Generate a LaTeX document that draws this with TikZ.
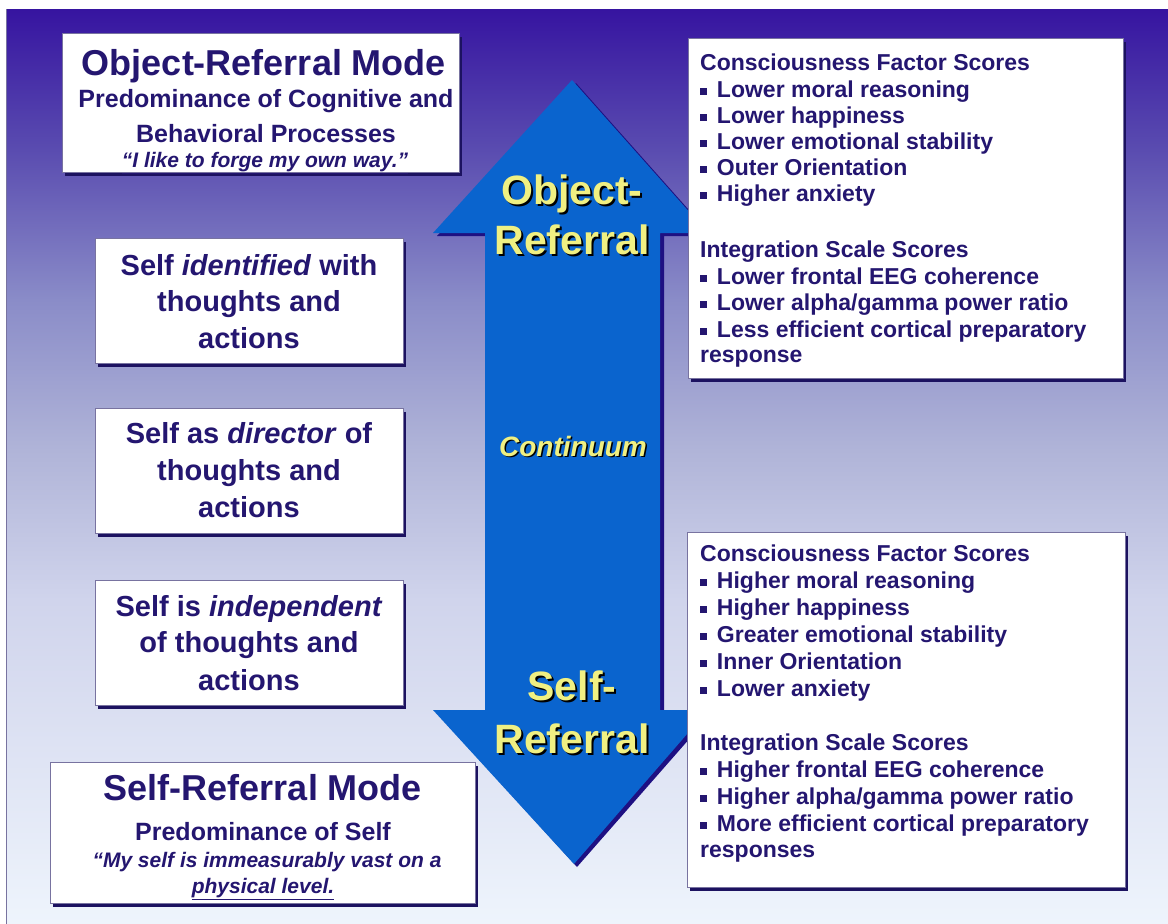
\documentclass[tikz,border=0pt]{standalone}
\usepackage{fontspec}
\setmainfont{Liberation Sans}
\usetikzlibrary{shadows}
\definecolor{bgA}{RGB}{54,20,160}
\definecolor{bgB}{RGB}{90,76,176}
\definecolor{bgC}{RGB}{138,140,200}
\definecolor{bgD}{RGB}{176,180,216}
\definecolor{bgE}{RGB}{208,212,236}
\definecolor{bgF}{RGB}{238,244,252}
\definecolor{ink}{RGB}{36,22,112}
\definecolor{edge}{RGB}{120,115,160}
\definecolor{deep}{RGB}{28,18,96}
\definecolor{arrowblue}{RGB}{10,100,206}
\definecolor{arrowdark}{RGB}{30,16,130}
\definecolor{lemon}{RGB}{240,240,130}
% background fade, dark indigo at the top to pale blue at the bottom
\pgfdeclareverticalshading{bgfade}{100bp}{color(0bp)=(bgF); color(25bp)=(bgF); color(42.7bp)=(bgE); color(50.9bp)=(bgD); color(59.1bp)=(bgC); color(67.3bp)=(bgB); color(75bp)=(bgA); color(100bp)=(bgA)}
% square bullet
\newcommand{\bul}{\raisebox{0.1em}{\rule{0.3em}{0.3em}}\hspace{0.43em}}
\begin{document}
\begin{tikzpicture}[x=1pt,y=-1pt,
  panel/.style={draw=edge, line width=1.2pt, fill=white, inner sep=0pt, anchor=north west,
    drop shadow={shadow xshift=2pt, shadow yshift=-3pt, fill=deep, opacity=1}},
  txt/.style={text=ink, inner sep=0pt, anchor=base},
  listline/.style={txt, anchor=base west, font=\bfseries\fontsize{23}{26}\selectfont},
  modetitle/.style={txt, font=\bfseries\fontsize{36}{40}\selectfont},
  modesub/.style={txt, font=\bfseries\fontsize{25}{28}\selectfont},
  modequote/.style={txt, font=\bfseries\itshape\fontsize{21}{24}\selectfont},
  stage/.style={txt, font=\bfseries\fontsize{29}{32}\selectfont},
  arrowtxt/.style={inner sep=0pt, anchor=base, text=lemon, font=\bfseries\fontsize{41}{44}\selectfont},
  arrowshadow/.style={arrowtxt, text=black},
]
\useasboundingbox (0,0) rectangle (1168,924);
\fill[white] (0,0) rectangle (1168,924);
\shade[shading=bgfade] (6,9) rectangle (1168,924);
\draw[edge, line width=1pt] (6.5,9) -- (6.5,924);

% double-headed continuum arrow
\fill[arrowdark] (576,83) -- (712,236) -- (664,236) -- (664,713) -- (712,713) -- (577,867)
  -- (437,713) -- (489,713) -- (489,236) -- (437,236) -- cycle;
\fill[arrowblue] (572,80) -- (708,233) -- (660,233) -- (660,710) -- (708,710) -- (574,864)
  -- (433,710) -- (485,710) -- (485,233) -- (433,233) -- cycle;

\node[arrowshadow] (or1s) at (574,206) {Object-};
\node[arrowtxt] (or1) at (572,204) {Object-};
\node[arrowshadow] (or2s) at (574,256) {Referral};
\node[arrowtxt] (or2) at (572,254) {Referral};
\node[arrowshadow] (sr1s) at (574,702) {Self-};
\node[arrowtxt] (sr1) at (572,700) {Self-};
\node[arrowshadow] (sr2s) at (574,755) {Referral};
\node[arrowtxt] (sr2) at (572,753) {Referral};
\node[arrowshadow, font=\bfseries\itshape\fontsize{28}{30}\selectfont] (conts) at (574.5,457.5) {Continuum};
\node[arrowtxt, font=\bfseries\itshape\fontsize{28}{30}\selectfont] (cont) at (573,456) {Continuum};

% object-referral mode
\node[panel, minimum width=397pt, minimum height=139pt] (om) at (62,33) {};
\node[modetitle] (om1) at (264,75) {Object-Referral Mode};
\node[modesub] (om2) at (266,107) {Predominance of Cognitive and};
\node[modesub] (om3) at (266,142) {Behavioral Processes};
\node[modequote] (om4) at (265,167) {\underline{“I like to forge my own way.”}};

% stages of the self
\node[panel, minimum width=308pt, minimum height=125pt] (st1) at (95,238) {};
\node[stage] (st1a) at (249,275) {Self \textit{identified} with};
\node[stage] (st1b) at (249,311) {thoughts and};
\node[stage] (st1c) at (249,348) {actions};

\node[panel, minimum width=308pt, minimum height=125pt] (st2) at (95,408) {};
\node[stage] (st2a) at (249,443) {Self as \textit{director} of};
\node[stage] (st2b) at (249,480) {thoughts and};
\node[stage] (st2c) at (249,517) {actions};

\node[panel, minimum width=308pt, minimum height=125pt] (st3) at (95,580) {};
\node[stage] (st3a) at (249,616) {Self is \textit{independent}};
\node[stage] (st3b) at (249,652) {of thoughts and};
\node[stage] (st3c) at (249,690) {actions};

% self-referral mode
\node[panel, minimum width=425pt, minimum height=141pt] (sm) at (50,762) {};
\node[modetitle] (sm1) at (263,800) {Self-Referral Mode};
\node[modesub] (sm2) at (263,840) {Predominance of Self};
\node[modequote] (sm3) at (267,867) {“My self is immeasurably vast on a};
\node[modequote] (sm4) at (263,893) {\underline{physical level.}};

% scores, object-referral end
\node[panel, minimum width=435pt, minimum height=340pt] (os) at (688,38) {};
\node[listline] (os1) at (700,70) {Consciousness Factor Scores};
\node[listline] (os2) at (700,97) {\bul Lower moral reasoning};
\node[listline] (os3) at (700,123) {\bul Lower happiness};
\node[listline] (os4) at (700,149) {\bul Lower emotional stability};
\node[listline] (os5) at (700,175) {\bul Outer Orientation};
\node[listline] (os6) at (700,201) {\bul Higher anxiety};
\node[listline] (os7) at (700,257) {Integration Scale Scores};
\node[listline] (os8) at (700,284) {\bul Lower frontal EEG coherence};
\node[listline] (os9) at (700,310) {\bul Lower alpha/gamma power ratio};
\node[listline] (os10) at (700,337) {\bul Less efficient cortical preparatory};
\node[listline] (os11) at (700,362) {response};

% scores, self-referral end
\node[panel, minimum width=438pt, minimum height=355pt] (ss) at (687,532) {};
\node[listline] (ss1) at (700,561) {Consciousness Factor Scores};
\node[listline] (ss2) at (700,588) {\bul Higher moral reasoning};
\node[listline] (ss3) at (700,615) {\bul Higher happiness};
\node[listline] (ss4) at (700,642) {\bul Greater emotional stability};
\node[listline] (ss5) at (700,669) {\bul Inner Orientation};
\node[listline] (ss6) at (700,696) {\bul Lower anxiety};
\node[listline] (ss7) at (700,750) {Integration Scale Scores};
\node[listline] (ss8) at (700,777) {\bul Higher frontal EEG coherence};
\node[listline] (ss9) at (700,804) {\bul Higher alpha/gamma power ratio};
\node[listline] (ss10) at (700,831) {\bul More efficient cortical preparatory};
\node[listline] (ss11) at (700,857) {responses};
\end{tikzpicture}
\end{document}
